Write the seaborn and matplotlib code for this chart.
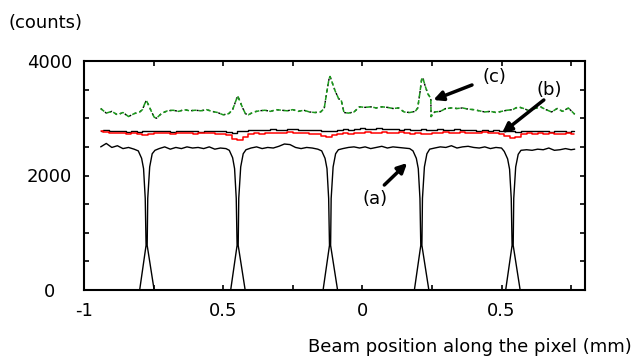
import numpy as np
import pandas as pd
import seaborn as sns
import matplotlib.pyplot as plt

# ---------------- data ----------------
# (a) black curve with five deep dips
a_x = [-0.94, -0.92, -0.90, -0.88, -0.86, -0.84, -0.82,
       -0.805, -0.793, -0.786, -0.780, -0.777, -0.800, -0.748, -0.773, -0.771, -0.764, -0.755, -0.745,
       -0.73, -0.71, -0.69, -0.67, -0.65, -0.63, -0.61, -0.59, -0.57, -0.55, -0.53, -0.51, -0.49,
       -0.478, -0.466, -0.459, -0.453, -0.450, -0.473, -0.421, -0.446, -0.444, -0.437, -0.428, -0.418,
       -0.40, -0.38, -0.36, -0.34, -0.32, -0.30, -0.28, -0.26, -0.24, -0.22, -0.20, -0.18, -0.16,
       -0.146, -0.134, -0.127, -0.121, -0.118, -0.141, -0.089, -0.114, -0.112, -0.105, -0.096, -0.086,
       -0.07, -0.05, -0.03, -0.01, 0.01, 0.03, 0.05, 0.07, 0.09, 0.11, 0.13, 0.15, 0.17,
       0.182, 0.194, 0.201, 0.207, 0.210, 0.187, 0.239, 0.214, 0.216, 0.223, 0.232, 0.242,
       0.26, 0.28, 0.30, 0.32, 0.34, 0.36, 0.38, 0.40, 0.42, 0.44, 0.46, 0.48, 0.50,
       0.510, 0.522, 0.529, 0.535, 0.538, 0.515, 0.567, 0.542, 0.544, 0.551, 0.560, 0.570,
       0.59, 0.61, 0.63, 0.65, 0.67, 0.69, 0.71, 0.73, 0.75, 0.763]
a_counts = [2500, 2560, 2490, 2520, 2470, 2490, 2460,
            2430, 2300, 2120, 1600, 780, 0, 0, 780, 1600, 2150, 2380, 2440,
            2470, 2500, 2460, 2490, 2470, 2500, 2480, 2490, 2470, 2500, 2460, 2480, 2470,
            2440, 2310, 2120, 1600, 780, 0, 0, 780, 1600, 2150, 2380, 2450,
            2480, 2500, 2470, 2490, 2480, 2510, 2550, 2540, 2490, 2470, 2490, 2480, 2460,
            2430, 2300, 2120, 1600, 780, 0, 0, 780, 1600, 2150, 2380, 2450,
            2470, 2490, 2500, 2480, 2500, 2470, 2490, 2510, 2480, 2500, 2490, 2480, 2470,
            2430, 2300, 2120, 1600, 780, 0, 0, 780, 1600, 2150, 2380, 2460,
            2480, 2500, 2490, 2520, 2480, 2500, 2510, 2490, 2480, 2500, 2470, 2490, 2480,
            2420, 2290, 2110, 1600, 780, 0, 0, 780, 1600, 2150, 2370, 2440,
            2450, 2440, 2460, 2450, 2480, 2440, 2450, 2470, 2450, 2460]

# (b) black reference trace and red trace
b_x = [-0.94, -0.92, -0.90, -0.88, -0.86, -0.84, -0.82, -0.80, -0.78, -0.76,
       -0.74, -0.72, -0.70, -0.68, -0.66, -0.64, -0.62, -0.60, -0.58, -0.56,
       -0.54, -0.52, -0.50, -0.48, -0.46, -0.44, -0.42, -0.40, -0.38, -0.36,
       -0.34, -0.32, -0.30, -0.28, -0.26, -0.24, -0.22, -0.20, -0.18, -0.16,
       -0.14, -0.12, -0.10, -0.08, -0.06, -0.04, -0.02, 0.00, 0.02, 0.04,
       0.06, 0.08, 0.10, 0.12, 0.14, 0.16, 0.18, 0.20, 0.22, 0.24,
       0.26, 0.28, 0.30, 0.32, 0.34, 0.36, 0.38, 0.40, 0.42, 0.44,
       0.46, 0.48, 0.50, 0.52, 0.54, 0.56, 0.58, 0.60, 0.62, 0.64,
       0.66, 0.68, 0.70, 0.72, 0.74, 0.76]
b_black = [2780, 2790, 2770, 2780, 2770, 2760, 2770, 2760, 2770, 2780,
           2770, 2780, 2770, 2760, 2780, 2770, 2780, 2770, 2760, 2780,
           2770, 2780, 2770, 2760, 2750, 2770, 2780, 2790, 2800, 2790,
           2800, 2810, 2790, 2800, 2820, 2810, 2800, 2790, 2800, 2790,
           2780, 2770, 2780, 2790, 2810, 2800, 2820, 2830, 2820, 2810,
           2830, 2820, 2810, 2820, 2800, 2810, 2790, 2800, 2810, 2790,
           2800, 2810, 2790, 2800, 2810, 2800, 2790, 2800, 2780, 2790,
           2780, 2790, 2770, 2780, 2770, 2760, 2770, 2780, 2770, 2770,
           2770, 2760, 2770, 2770, 2760, 2770]
b_red = [2770, 2760, 2750, 2740, 2750, 2730, 2740, 2720, 2700, 2720,
         2740, 2750, 2740, 2730, 2740, 2750, 2740, 2730, 2740, 2750,
         2740, 2730, 2720, 2700, 2640, 2620, 2680, 2730, 2740, 2730,
         2740, 2750, 2740, 2750, 2760, 2740, 2750, 2740, 2730, 2720,
         2690, 2680, 2700, 2720, 2740, 2730, 2750, 2740, 2760, 2750,
         2740, 2760, 2750, 2740, 2760, 2750, 2730, 2740, 2720, 2730,
         2750, 2740, 2760, 2750, 2740, 2760, 2750, 2740, 2750, 2760,
         2750, 2740, 2730, 2690, 2650, 2680, 2720, 2740, 2730, 2740,
         2720, 2740, 2730, 2720, 2740, 2730]

# (c) green curve with peaks
c_x = [-0.94, -0.92, -0.90, -0.88, -0.86, -0.84, -0.82, -0.80, -0.79,
       -0.783, -0.776, -0.768, -0.758, -0.748, -0.740,
       -0.72, -0.70, -0.68, -0.66, -0.64, -0.62, -0.60, -0.58, -0.56, -0.54, -0.52, -0.50, -0.48, -0.466,
       -0.457, -0.448, -0.440, -0.430, -0.420, -0.410,
       -0.39, -0.37, -0.35, -0.33, -0.31, -0.29, -0.27, -0.25, -0.23, -0.21, -0.19, -0.17, -0.15, -0.137,
       -0.128, -0.120, -0.116, -0.108, -0.098, -0.085, -0.076, -0.066,
       -0.05, -0.03, -0.01, 0.01, 0.03, 0.05, 0.07, 0.09, 0.11, 0.13, 0.15, 0.17, 0.19, 0.199,
       0.207, 0.213, 0.217, 0.226, 0.236, 0.246, 0.247,
       0.26, 0.28, 0.30, 0.32, 0.34, 0.36, 0.38, 0.40, 0.42, 0.44, 0.46, 0.48, 0.50,
       0.52, 0.54, 0.56, 0.58, 0.60, 0.62, 0.64, 0.66, 0.68, 0.70, 0.72, 0.74, 0.763]
c_counts = [3170, 3090, 3120, 3060, 3100, 3030, 3080, 3110, 3150,
            3240, 3310, 3230, 3120, 3020, 3000,
            3090, 3130, 3140, 3120, 3150, 3130, 3140, 3130, 3150, 3120, 3100, 3060, 3080, 3150,
            3270, 3390, 3300, 3180, 3080, 3060,
            3110, 3130, 3140, 3120, 3150, 3140, 3130, 3150, 3120, 3140, 3110, 3100, 3110, 3170,
            3450, 3680, 3730, 3620, 3480, 3340, 3320, 3100,
            3090, 3110, 3200, 3190, 3200, 3180, 3200, 3190, 3170, 3180, 3110, 3100, 3120, 3180,
            3450, 3680, 3710, 3560, 3420, 3350, 3030,
            3110, 3120, 3170, 3180, 3170, 3180, 3160, 3150, 3130, 3110, 3120, 3100, 3120,
            3140, 3150, 3200, 3170, 3130, 3170, 3200, 3150, 3110, 3170, 3120, 3180, 3070]

x_tick_pos = [-1, -0.5, 0, 0.5]
x_tick_labels = ['-1', '0.5', '0', '0.5']
y_tick_pos = [0, 2000, 4000]
y_tick_labels = ['0', '2000', '4000']

# ---------------- figure ----------------
sns.set_theme(style='white')
plt.rcParams['font.family'] = ['DejaVu Sans']
plt.rcParams['text.color'] = 'black'
plt.rcParams['axes.labelcolor'] = 'black'

W, H = 633, 362
fig = plt.figure(figsize=(W / 100, H / 100), dpi=100)
L, R, T, B = 84, 585, 61, 290
ax = fig.add_axes([L / W, 1 - B / H, (R - L) / W, (B - T) / H])

df_a = pd.DataFrame({'x': a_x, 'y': a_counts})
df_b = pd.DataFrame({'x': b_x, 'k': b_black, 'r': b_red})
df_c = pd.DataFrame({'x': c_x, 'y': c_counts})

sns.lineplot(data=df_a, x='x', y='y', sort=False, estimator=None, color='black', lw=1.0, ax=ax)
sns.lineplot(data=df_b, x='x', y='k', sort=False, estimator=None, color='black', lw=1.0,
             drawstyle='steps-mid', ax=ax)
sns.lineplot(data=df_b, x='x', y='r', sort=False, estimator=None, color='#ff0000', lw=1.1,
             drawstyle='steps-mid', ax=ax)
sns.lineplot(data=df_c, x='x', y='y', sort=False, estimator=None, color='black', lw=1.0,
             linestyle=(0, (1.5, 2.5)), ax=ax)
sns.lineplot(data=df_c, x='x', y='y', sort=False, estimator=None, color='#1a9a1a', lw=1.1,
             linestyle=(0, (3.0, 1.8)), ax=ax)

ax.set_xlim(-1, 0.8)
ax.set_ylim(0, 4000)
ax.set_xlabel('')
ax.set_ylabel('')
ax.set_xticks(x_tick_pos)
ax.set_xticklabels(x_tick_labels)
ax.set_xticks([-0.75, -0.25, 0.25, 0.75], minor=True)
ax.set_yticks(y_tick_pos)
ax.set_yticklabels(y_tick_labels)
ax.set_yticks([500, 1000, 1500, 2500, 3000, 3500], minor=True)
ax.tick_params(which='both', direction='in', top=True, right=True, left=True, bottom=True,
               length=3.5, width=1.2, color='black', labelsize=13, labelcolor='black')
ax.tick_params(axis='x', which='major', pad=9)
ax.tick_params(axis='y', which='major', pad=25)
for lab in ax.get_yticklabels():
    lab.set_ha('center')
for s in ax.spines.values():
    s.set_color('black')
    s.set_linewidth(1.5)

# annotations
arrow = dict(arrowstyle='-|>', color='black', lw=2.5, mutation_scale=14, shrinkA=0, shrinkB=0)
ax.annotate('', xy=(0.255, 3319), xytext=(0.394, 3581), arrowprops=arrow)
ax.text(0.473, 3721, '(c)', ha='center', va='center', fontsize=13, color='black')
ax.annotate('', xy=(0.502, 2742), xytext=(0.652, 3319), arrowprops=arrow)
ax.text(0.670, 3493, '(b)', ha='center', va='center', fontsize=13, color='black')
ax.annotate('', xy=(0.161, 2218), xytext=(0.079, 1834), arrowprops=arrow)
ax.text(0.047, 1590, '(a)', ha='center', va='center', fontsize=13, color='black')

fig.text(8 / W, 1 - 23 / H, '(counts)', ha='left', va='center', fontsize=13, color='black')
fig.text(632 / W, 1 - 347 / H, 'Beam position along the pixel (mm)', ha='right', va='center',
         fontsize=13, color='black')

fig.savefig('out.png', dpi=100)
